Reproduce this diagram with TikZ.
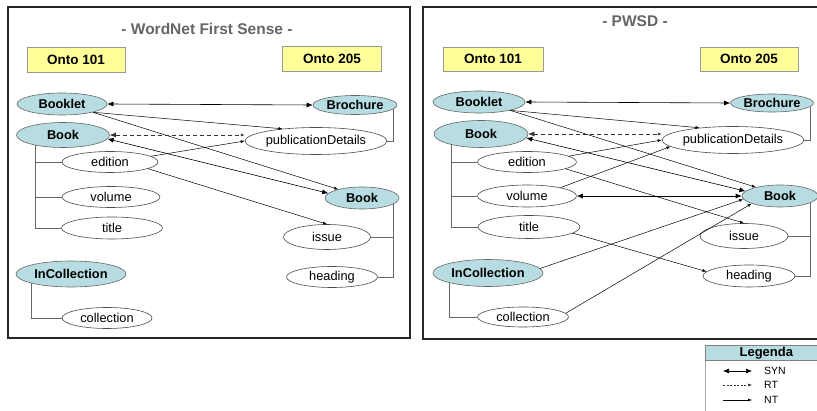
\documentclass[tikz,border=0pt]{standalone}
\usepackage{fontspec}
\setmainfont{Liberation Sans}
\usetikzlibrary{shapes.geometric,arrows.meta}
\definecolor{clsblue}{RGB}{183,221,226}
\definecolor{ontoyellow}{RGB}{255,255,153}
\definecolor{ttlgray}{RGB}{102,102,102}
\begin{document}
\begin{tikzpicture}[x=1pt,y=-1pt,
  sz/.style 2 args={minimum width=#1pt,minimum height=#2pt},
  cls/.style={ellipse,draw=black!60,fill=clsblue,line width=0.6pt,inner sep=0pt,font=\fontsize{12.8}{14}\selectfont\bfseries},
  prop/.style={ellipse,draw=black!70,fill=white,line width=0.6pt,inner sep=0pt,font=\fontsize{12.8}{14}\selectfont},
  onto/.style={rectangle,draw=black!40,fill=ontoyellow,line width=0.6pt,inner sep=0pt,font=\fontsize{13.5}{15}\selectfont\bfseries},
  ttl/.style={text=ttlgray,font=\fontsize{15.5}{18}\selectfont\bfseries},
  frame/.style={draw=black!85,line width=1.6pt},
  tree/.style={draw=black!60,line width=0.6pt},
  syn/.style={draw=black,line width=0.6pt,{Latex[length=6pt,width=5pt]}-{Latex[length=6pt,width=5pt]}},
  nt/.style={draw=black,line width=0.5pt,-{Latex[length=4pt,width=3pt]}},
  rt/.style={draw=black!80,line width=0.6pt,dashed,dash pattern=on 4pt off 3pt,{Latex[length=6pt,width=5pt]}-{Latex[length=4pt,width=3pt]}},
  rtleg/.style={draw=black!80,line width=0.5pt,dash pattern=on 2pt off 1.5pt,-{Latex[length=4pt,width=3pt]}},
  legtxt/.style={anchor=west,font=\fontsize{10.5}{12}\selectfont,inner sep=0pt}
]
\useasboundingbox (0,0) rectangle (817,411);
\clip (0,0) rectangle (817,411);
\fill[white] (0,0) rectangle (817,411);

% ---------- frames ----------
\draw[frame] (8,7) rectangle (410,338);
\draw[frame] (423,7) rectangle (830,339);

% ================= LEFT PANEL =================
\node[ttl] (tL) at (207,29) {- WordNet First Sense -};
\node[onto,sz={98}{25}] (oL1) at (76,60) {Onto 101};
\node[onto,sz={99}{25}] (oL2) at (332,59) {Onto 205};

\node[cls,sz={90}{22}] (bookletL) at (62,104) {Booklet};
\node[cls,sz={84}{19}] (brochL) at (355,105) {Brochure};
\node[cls,sz={93}{25}] (bookL) at (63,135) {Book};
\node[prop,sz={134}{27}] (pdL) at (316,141) {publicationDetails};
\node[prop,sz={96}{21}] (editionL) at (110,162) {edition};
\node[prop,sz={98}{21}] (volumeL) at (111,197) {volume};
\node[prop,sz={101}{22}] (titleNL) at (112,228) {title};
\node[cls,sz={74}{22}] (bookRL) at (362,198) {Book};
\node[prop,sz={87}{25}] (issueL) at (327,237) {issue};
\node[prop,sz={91}{21}] (headingL) at (332,277) {heading};
\node[cls,sz={110}{26}] (incollL) at (71,274) {InCollection};
\node[prop,sz={90}{21}] (collL) at (107,318) {collection};

% trees
\draw[tree] (bookL.200) |- (editionL.west);
\draw[tree] (bookL.200) |- (volumeL.west);
\draw[tree] (bookL.200) |- (titleNL.west);
\draw[tree] (incollL.193) |- (collL.west);
\draw[tree] (brochL.-6) |- (pdL.east);
\draw[tree] (bookRL.-11) |- (issueL.east);
\draw[tree] (bookRL.-11) |- (headingL.east);

% relations
\draw[syn] (bookletL.east) -- (brochL.west);
\draw[nt] (bookletL.-15) -- (pdL.160);
\draw[nt] (bookletL.-15) -- (bookRL.160);
\draw[syn] (bookL.-5) -- (bookRL.172);
\draw[rt] (bookL.east) -- (bookL.east -| pdL.west);
\draw[nt] (editionL.8) -- (pdL.west);
\draw[nt] (editionL.-10) -- (issueL.north);

% ================= RIGHT PANEL =================
\node[ttl] (tR) at (635,21) {- PWSD -};
\node[onto,sz={100}{24}] (oR1) at (493,59) {Onto 101};
\node[onto,sz={98}{24}] (oR2) at (749,59) {Onto 205};

\node[cls,sz={92}{22}] (bookletR) at (479,102) {Booklet};
\node[cls,sz={83}{18}] (brochR) at (772,103) {Brochure};
\node[cls,sz={94}{27}] (bookLR) at (481,134) {Book};
\node[prop,sz={132}{27}] (pdR) at (733,140) {publicationDetails};
\node[prop,sz={99}{21}] (editionR) at (527,162) {edition};
\node[prop,sz={99}{22}] (volumeR) at (527,196) {volume};
\node[prop,sz={102}{23}] (titleNR) at (529,227) {title};
\node[cls,sz={76}{22}] (bookRR) at (780,196) {Book};
\node[prop,sz={88}{25}] (issueR) at (744,236) {issue};
\node[prop,sz={92}{22}] (headingR) at (749,276) {heading};
\node[cls,sz={110}{27}] (incollR) at (488,273) {InCollection};
\node[prop,sz={91}{20}] (collR) at (523,317) {collection};

% trees
\draw[tree] (bookLR.200) |- (editionR.west);
\draw[tree] (bookLR.200) |- (volumeR.west);
\draw[tree] (bookLR.200) |- (titleNR.west);
\draw[tree] (incollR.194) |- (collR.west);
\draw[tree] (brochR.-6) |- (pdR.east);
\draw[tree] (bookRR.-13) |- (issueR.east);
\draw[tree] (bookRR.-13) |- (headingR.east);

% relations
\draw[syn] (bookletR.east) -- (brochR.west);
\draw[nt] (bookletR.-15) -- (pdR.160);
\draw[nt] (bookletR.-15) -- (bookRR.160);
\draw[syn] (bookLR.-5) -- (bookRR.172);
\draw[rt] (bookLR.east) -- (bookLR.east -| pdR.west);
\draw[nt] (editionR.8) -- (pdR.west);
\draw[nt] (editionR.-10) -- (issueR.north);
\draw[nt] (volumeR.14) -- (pdR.186);
\draw[syn] (volumeR.east) -- (bookRR.west);
\draw[nt] (titleNR.-8) -- (headingR.174);
\draw[nt] (incollR.5) -- (bookRR.185);
\draw[nt] (collR.5) -- (bookRR.195);

% ================= LEGEND =================
\draw[draw=black!35,line width=0.5pt] (705,345) rectangle (830,420);
\node[draw=black!50,fill=clsblue,line width=0.6pt,minimum width=122pt,minimum height=15pt,inner sep=0pt,anchor=north west,
      font=\fontsize{13}{15}\selectfont\bfseries] (leg) at (705,345) {Legenda};
\coordinate (s1) at (723,371); \coordinate (s2) at (752,371);
\coordinate (r1) at (723,385); \coordinate (r2) at (752,385);
\coordinate (n1) at (723,400); \coordinate (n2) at (752,400);
\draw[syn] (s1) -- (s2);
\draw[rtleg] (r1) -- (r2);
\draw[nt] (n1) -- (n2);
\node[legtxt] (lsyn) at (764,371) {SYN};
\node[legtxt] (lrt) at (764,385) {RT};
\node[legtxt] (lnt) at (764,400) {NT};
\end{tikzpicture}
\end{document}
